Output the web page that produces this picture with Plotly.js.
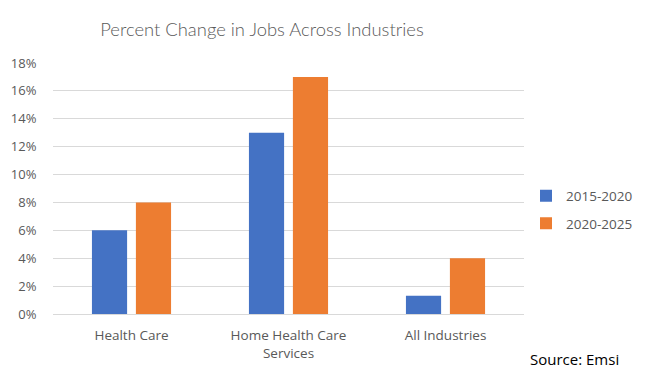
<!DOCTYPE html>
<html>
<head>
<meta charset="utf-8">
<script src="https://cdn.plot.ly/plotly-3.0.1.min.js"></script>
<style>html,body{margin:0;padding:0;background:#fff;}#chart{width:648px;height:374px;}</style>
</head>
<body>
<div id="chart"></div>
<script>
const categories = ["Health Care", "Home Health Care<br>Services", "All Industries"];
const series1Name = "2015-2020";
const series1 = [6, 13, 1.3];
const series2Name = "2020-2025";
const series2 = [8, 17, 4];
const yTicks = [0, 2, 4, 6, 8, 10, 12, 14, 16, 18];
const yTickLabels = yTicks.map(v => v + "%");

const font = "'Open Sans', 'Noto Sans', sans-serif";
const data = [
  {type: "bar", x: categories, y: series1, name: series1Name, legendgroup: "a", marker: {color: "#4472c4"}, hoverinfo: "skip"},
  {type: "bar", x: categories, y: series2, name: series2Name, legendgroup: "b", marker: {color: "#ed7d31"}, hoverinfo: "skip"}
];
const layout = {
  width: 648, height: 374,
  margin: {l: 53, r: 124, t: 63, b: 60, autoexpand: false},
  paper_bgcolor: "#fff", plot_bgcolor: "#fff",
  font: {family: font, color: "#595959", size: 13},
  title: {text: "Percent Change in Jobs Across Industries", font: {size: 18.4, color: "#595959", family: "Lato, 'Open Sans', sans-serif", weight: 300}, x: 262/648, xanchor: "center", xref: "container", y: 1 - 30/374, yref: "container", yanchor: "middle"},
  barmode: "group", bargap: 0.44, bargroupgap: 0.2,
  xaxis: {showgrid: false, zeroline: false, showline: false, ticks: "outside", ticklen: 9, tickcolor: "rgba(0,0,0,0)", tickfont: {size: 13.5, color: "#595959"}},
  yaxis: {range: [0, 18], tickvals: yTicks, ticktext: yTickLabels, showgrid: true, gridcolor: "#d9d9d9", gridwidth: 1, zeroline: true, zerolinecolor: "#d9d9d9", zerolinewidth: 1, showline: false, ticks: "outside", ticklen: 13, tickcolor: "rgba(0,0,0,0)", tickfont: {size: 13, color: "#595959"}},
  legend: {xref: "container", yref: "container", x: 526/648, y: 1 - 210/374, xanchor: "left", yanchor: "middle", font: {size: 13.5, color: "#595959"}, tracegroupgap: 7, itemwidth: 30},
  annotations: [{text: "Source: Emsi", xref: "paper", yref: "paper", x: (528 - 53) / 471, y: (314 - 359) / 251, xanchor: "left", yanchor: "middle", showarrow: false, font: {size: 15, color: "#000", family: font}}]
};
Plotly.newPlot("chart", data, layout, {displayModeBar: false, staticPlot: true});
</script>
</body>
</html>
